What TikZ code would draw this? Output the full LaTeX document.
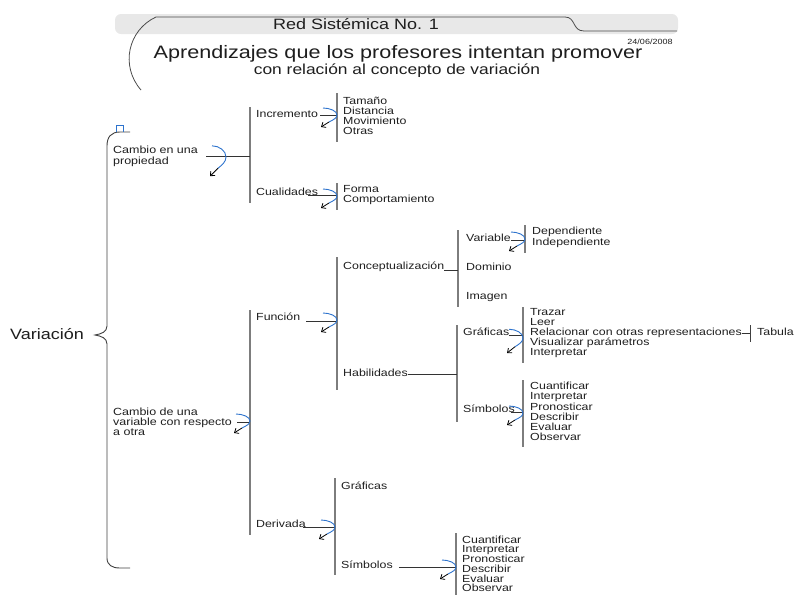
\documentclass[tikz,border=0pt]{standalone}
\usepackage{fontspec}
\setmainfont{Liberation Sans}[FakeStretch=1.2]
\usetikzlibrary{arrows.meta}
\definecolor{curlblue}{RGB}{45,115,205}
\definecolor{bargray}{RGB}{125,125,125}
\definecolor{txt}{RGB}{30,30,30}
\begin{document}
\begin{tikzpicture}[x=1pt,y=-1pt,
  item/.style={font=\fontsize{10.3}{10.5}\selectfont, inner sep=0pt, anchor=west, text height=7.5pt, text depth=2pt, text=txt, align=left},
  bar/.style={draw=bargray, line width=1.3pt},
  thinbar/.style={draw=black!75, line width=0.9pt},
  link/.style={draw=black!80, line width=0.8pt},
  curl/.pic={
    \draw[curlblue, line width=0.9pt] (-14,-7) .. controls (-7,-7) and (0,-4) .. (0,0) .. controls (0,3) and (-4,5) .. (-8,7);
    \draw[black, line width=0.8pt, -{Straight Barb[length=3.5pt,width=6pt]}] (-8,7) -- (-16,12);
  }]
\useasboundingbox (0,0) rectangle (795,595);

% ---------- header ----------
\fill[gray!18, rounded corners=6pt] (115,14) rectangle (678,34);
\draw[black!70, line width=0.8pt] (141,90) .. controls (120,66) and (128,30) .. (156,17) -- (565,17) .. controls (576,17) and (572,31) .. (584,31) -- (677,31);
\node[font=\fontsize{15}{15}\selectfont, inner sep=0pt, text=txt] (red) at (356,24) {Red Sistémica No. 1};
\node[font=\fontsize{7.5}{8}\selectfont, inner sep=0pt, text=txt] (date) at (650,42) {24/06/2008};
\node[font=\fontsize{18}{18}\selectfont, inner sep=0pt, text=txt] (tit) at (398,54) {Aprendizajes que los profesores intentan promover};
\node[font=\fontsize{14.5}{14.5}\selectfont, inner sep=0pt, text=txt] (sub) at (397,71) {con relación al concepto de variación};

% ---------- root and brace ----------
\node[font=\fontsize{15}{15}\selectfont, inner sep=0pt, anchor=west, text=txt] (var) at (10,334) {Variación};
\coordinate (braceTip) at (95,335);
\draw[black!75, line width=0.9pt] (130,132) -- (120,132) .. controls (111,132) and (107,137) .. (107,146) -- (107,326) .. controls (107,332) and (101,334) .. (braceTip) .. controls (101,336) and (107,338) .. (107,344) -- (107,558) .. controls (107,565) and (112,568) .. (120,568) -- (130,568);
\draw[curlblue, line width=0.8pt] (116,132) -- (116,125) -- (123,125) -- (123,132);

% ---------- level 1 ----------
\node[item, text height=, text depth=, align=left, font=\fontsize{10.4}{11}\selectfont] (cp) at (113,156) {Cambio en una\\propiedad};
\node[item, text height=, text depth=, align=left, font=\fontsize{10.4}{10}\selectfont] (cv) at (113,422) {Cambio de una\\variable con respecto\\a otra};

% bars level 2
\coordinate (b1t) at (250,107); \coordinate (b1b) at (250,203);
\draw[bar] (b1t) -- (b1b);
\coordinate (b4t) at (250,310); \coordinate (b4b) at (250,535);
\draw[bar] (b4t) -- (b4b);
\draw[link, shorten <=8pt] (cp.east) -- (cp.east -| b1t);
\draw[link, shorten <=5pt] (cv.east) -- (cv.east -| b4t);
\pic[xscale=1.0, yscale=1.6] at (226,157) {curl};
\pic at (250,421) {curl};

% ---------- Cambio en una propiedad ----------
\node[item] (inc) at (256,115) {Incremento};
\node[item] (cua) at (256,193) {Cualidades};
\coordinate (b2t) at (337,93); \coordinate (b2b) at (337,142);
\coordinate (b3t) at (337,183); \coordinate (b3b) at (337,210);
\draw[bar] (b2t) -- (b2b);
\draw[bar] (b3t) -- (b3b);
\draw[link, shorten <=2pt] (inc.east) -- (inc.east -| b2t);
\draw[link, shorten <=-10pt] ([yshift=-2pt]cua.east) -- ([yshift=-2pt]cua.east -| b3t);
\pic at (337,115) {curl};
\pic at (337,196) {curl};
\foreach \t [count=\i from 0] in {Tamaño,Distancia,Movimiento,Otras}
  \node[item] (inc\i) at (343,102+10*\i) {\t};
\foreach \t [count=\i from 0] in {Forma,Comportamiento}
  \node[item] (cua\i) at (343,190+10*\i) {\t};

% ---------- Cambio de una variable ----------
\node[item] (fun) at (256,318) {Función};
\node[item] (der) at (256,525) {Derivada};
\coordinate (b5t) at (337,257); \coordinate (b5b) at (337,390);
\draw[bar] (b5t) -- (b5b);
\coordinate (b12t) at (335,478); \coordinate (b12b) at (335,575);
\draw[bar] (b12t) -- (b12b);
\draw[link, shorten <=6pt] ([yshift=-3pt]fun.east) -- ([yshift=-3pt]fun.east -| b5t);
\draw[link, shorten <=-3pt] ([yshift=-2pt]der.east) -- ([yshift=-2pt]der.east -| b12t);
\pic at (337,320) {curl};
\pic at (335,527) {curl};

% Conceptualizacion
\node[item] (con) at (343,267) {Conceptualización};
\coordinate (b6t) at (458,230); \coordinate (b6b) at (458,307);
\draw[bar] (b6t) -- (b6b);
\draw[link] ([yshift=-3pt]con.east) -- ([yshift=-3pt]con.east -| b6t);
\node[item] (vble) at (466,239) {Variable};
\node[item] (dom) at (466,268) {Dominio};
\node[item] (ima) at (466,297) {Imagen};
\coordinate (b7t) at (525,225); \coordinate (b7b) at (525,253);
\draw[bar] (b7t) -- (b7b);
\draw[link] ([yshift=-1pt]vble.east) -- ([yshift=-1pt]vble.east -| b7t);
\pic at (525,239) {curl};
\node[item] (dep) at (532,232) {Dependiente};
\node[item] (ind) at (532,243) {Independiente};

% Habilidades
\node[item] (hab) at (343,374) {Habilidades};
\coordinate (b8t) at (457,325); \coordinate (b8b) at (457,422);
\draw[bar] (b8t) -- (b8b);
\draw[link] (hab.east) -- (hab.east -| b8t);
\node[item] (gra) at (463,333) {Gráficas};
\node[item] (sim) at (463,410) {Símbolos};
\coordinate (b9t) at (523,307); \coordinate (b9b) at (523,363);
\coordinate (b10t) at (523,380); \coordinate (b10b) at (523,447);
\draw[bar] (b9t) -- (b9b);
\draw[bar] (b10t) -- (b10b);
\draw[link] ([yshift=-2pt]gra.east) -- ([yshift=-2pt]gra.east -| b9t);
\draw[link, shorten <=-4pt] ([yshift=-2pt]sim.east) -- ([yshift=-2pt]sim.east -| b10t);
\pic[yscale=1.25] at (523,338) {curl};
\pic at (523,413) {curl};
\foreach \t [count=\i from 0] in {Trazar,Leer,Relacionar con otras representaciones,Visualizar parámetros,Interpretar}
  \node[item] (gi\i) at (530,313+10*\i) {\t};
\foreach \t [count=\i from 0] in {Cuantificar,Interpretar,Pronosticar,Describir,Evaluar,Observar}
  \node[item] (si\i) at (530,387+10.2*\i) {\t};
\coordinate (b11t) at (750,325); \coordinate (b11b) at (750,342);
\draw[thinbar] (b11t) -- (b11b);
\draw[link] (gi2.east) -- (gi2.east -| b11t);
\node[item] (tab) at (757,333) {Tabula};

% Derivada
\node[item] (dgra) at (341,487) {Gráficas};
\node[item] (dsim) at (341,566) {Símbolos};
\coordinate (b13t) at (456,533); \coordinate (b13b) at (456,595);
\draw[bar] (b13t) -- (b13b);
\draw[link, shorten <=6pt] ([yshift=-1pt]dsim.east) -- ([yshift=-1pt]dsim.east -| b13t);
\pic at (456,567) {curl};
\foreach \t [count=\i from 0] in {Cuantificar,Interpretar,Pronosticar,Describir,Evaluar,Observar}
  \node[item] (di\i) at (462,540.5+9.7*\i) {\t};
\end{tikzpicture}
\end{document}
